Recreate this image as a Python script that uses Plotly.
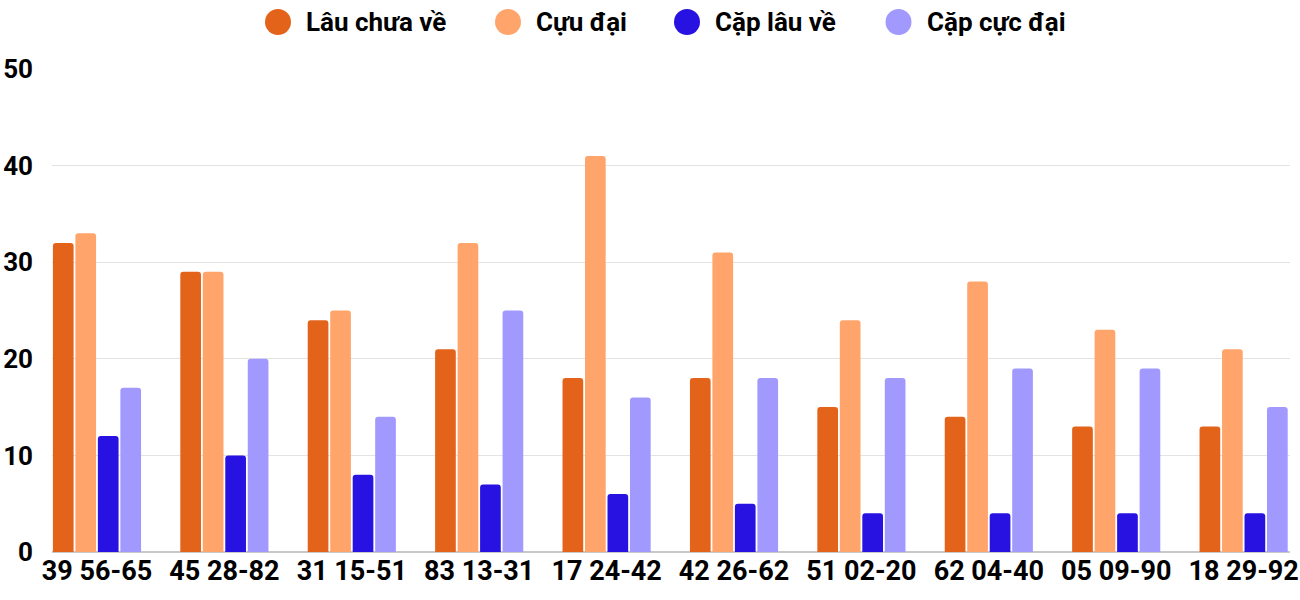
import plotly.graph_objects as go

categories = ["39 56-65", "45 28-82", "31 15-51", "83 13-31", "17 24-42",
              "42 26-62", "51 02-20", "62 04-40", "05 09-90", "18 29-92"]
series_names = ["Lâu chưa về", "Cựu đại", "Cặp lâu về", "Cặp cực đại"]
lau_chua_ve = [32, 29, 24, 21, 18, 18, 15, 14, 13, 13]
cuu_dai = [33, 29, 25, 32, 41, 31, 24, 28, 23, 21]
cap_lau_ve = [12, 10, 8, 7, 6, 5, 4, 4, 4, 4]
cap_cuc_dai = [17, 20, 14, 25, 16, 18, 18, 19, 19, 15]
colors = ["#E3631A", "#FFA56B", "#2812E2", "#A299FF"]

# layout geometry (pixels)
W, H = 1300, 600
ML, MR, MT, MB = 52, 10, 69, 48
PW, PH = W - ML - MR, H - MT - MB
legend_circle_px = [278, 508, 687, 898.5]
legend_y_px = 22
legend_text_offset = 26
circle_d = 26

FONT = "Roboto"

fig = go.Figure()
for name, vals, col in zip(series_names, [lau_chua_ve, cuu_dai, cap_lau_ve, cap_cuc_dai], colors):
    fig.add_trace(go.Bar(x=categories, y=vals, name=name,
                         marker=dict(color=col, cornerradius=3, line=dict(width=0)),
                         showlegend=False))

def px_to_paper_x(px):
    return (px - ML) / PW

def px_to_paper_y(py):
    return (H - MB - py) / PH

shapes = []
annotations = []
for name, col, cx in zip(series_names, colors, legend_circle_px):
    xp = px_to_paper_x(cx)
    yp = px_to_paper_y(legend_y_px)
    shapes.append(dict(type="circle", xref="paper", yref="paper",
                       xsizemode="pixel", ysizemode="pixel",
                       xanchor=xp, yanchor=yp,
                       x0=-circle_d / 2, x1=circle_d / 2, y0=-circle_d / 2, y1=circle_d / 2,
                       fillcolor=col, line=dict(width=0)))
    annotations.append(dict(text=name, xref="paper", yref="paper",
                            x=px_to_paper_x(cx + legend_text_offset), y=yp,
                            xanchor="left", yanchor="middle", showarrow=False,
                            font=dict(family=FONT, size=26, weight="bold", color="#000")))

fig.update_layout(
    width=W, height=H,
    margin=dict(l=ML, r=MR, t=MT, b=MB),
    paper_bgcolor="white", plot_bgcolor="white",
    barmode="group", bargap=0.294, bargroupgap=0.08,
    font=dict(family=FONT, size=20, color="#000"),
    showlegend=False,
    shapes=shapes, annotations=annotations,
    xaxis=dict(range=[-0.353, 9.364], showgrid=False, showline=False, ticks="",
               automargin=False,
               tickfont=dict(family=FONT, size=27, weight="bold")),
    yaxis=dict(range=[0, 50], dtick=10, showgrid=True, gridcolor="#E3E3E3", gridwidth=1,
               zeroline=True, zerolinecolor="#C8C8C8", zerolinewidth=1.5,
               automargin=False,
               tickfont=dict(family=FONT, size=26, weight="bold"), ticks="",
               ticklabelstandoff=18),
)
fig.write_html("out.html", config={"displayModeBar": False},
               post_script="document.body.style.margin='0';document.body.style.padding='0';")
